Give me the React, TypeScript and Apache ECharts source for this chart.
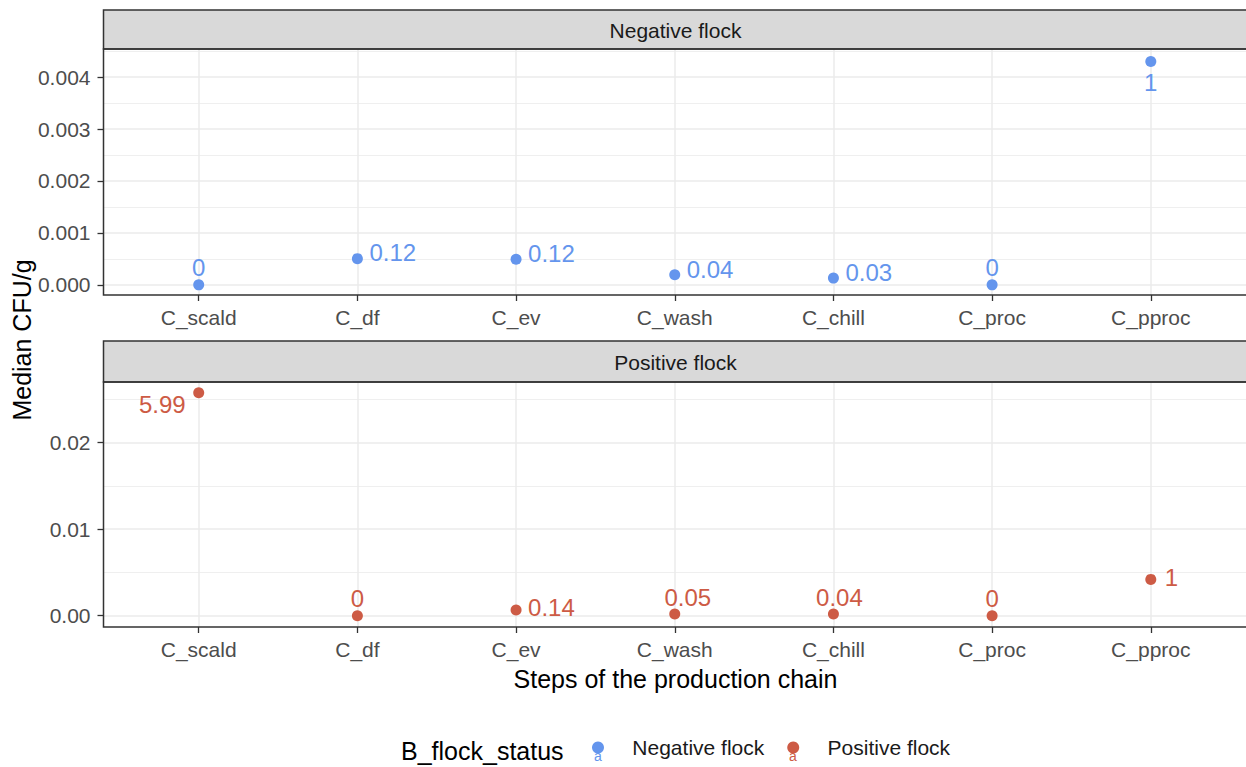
import React, { useEffect, useRef } from 'react';
import * as echarts from 'echarts';

// ---------------- data ----------------
const steps = ['C_scald', 'C_df', 'C_ev', 'C_wash', 'C_chill', 'C_proc', 'C_pproc'];
const negativeValues = [0, 0.000505, 0.000495, 0.000195, 0.00013, 0, 0.0043];
const positiveValues = [0.02577, 0, 0.00066, 0.0002, 0.0002, 0, 0.0042];
const negativeLabels = ['0', '0.12', '0.12', '0.04', '0.03', '0', '1'];
const positiveLabels = ['5.99', '0', '0.14', '0.05', '0.04', '0', '1'];
const negativeTicks = [0, 0.001, 0.002, 0.003, 0.004];
const negativeMinorTicks = [0.0005, 0.0015, 0.0025, 0.0035, 0.0045];
const positiveTicks = [0, 0.01, 0.02];
const positiveMinorTicks = [0.005, 0.015, 0.025];
const stepIndex = [0, 1, 2, 3, 4, 5, 6];
const panelNames = ['Negative flock', 'Positive flock'];
const legendTitle = 'B_flock_status';
const xTitle = 'Steps of the production chain';
const yTitle = 'Median CFU/g';

// ---------------- style / layout ----------------
const BLUE = '#6495ED';
const RED = '#CD5B45';
const FONT = '"Liberation Sans", Arial, sans-serif';
// label placement: [align, dx, dy]
const negPlace: [string, number, number][] = [
  ['center', 0, -17], ['left', 12, -6], ['left', 12, -6], ['left', 12, -5],
  ['left', 12, -6], ['center', 0, -17], ['center', 0, 21],
];
const posPlace: [string, number, number][] = [
  ['right', -13, 12], ['center', 0, -17], ['left', 12, -3], ['center', 13, -17],
  ['center', 6, -17], ['center', 0, -17], ['left', 14, -2],
];

const PANEL_LEFT = 103.5;
const PANEL_W = 1144;
const P1 = { stripTop: 10, top: 49, bottom: 295 };
const P2 = { stripTop: 341, top: 382, bottom: 627 };

function buildData(values: number[], labels: string[], place: [string, number, number][], color: string) {
  return values.map((v, i) => ({
    value: [stepIndex[i], v],
    label: {
      show: true,
      formatter: labels[i],
      position: 'inside',
      align: place[i][0],
      verticalAlign: 'middle',
      offset: [place[i][1], place[i][2]],
      color,
      fontSize: 24,
      fontFamily: FONT,
    },
  }));
}

function xAxisFor(gridIndex: number) {
  return {
    type: 'value',
    gridIndex,
    min: -0.6,
    max: 6.6,
    axisLine: { show: false, onZero: false },
    axisTick: { show: true, customValues: stepIndex, length: 6, lineStyle: { color: '#333333', width: 1.3 } },
    axisLabel: {
      show: true,
      customValues: stepIndex,
      formatter: (v: number) => steps[Math.round(v)] ?? '',
      color: '#4D4D4D',
      fontSize: 21,
      fontFamily: FONT,
      margin: 11.5,
    },
    splitLine: { show: true, lineStyle: { color: '#EBEBEB', width: 1.5 } },
  };
}

function yAxisMajor(gridIndex: number, min: number, max: number, ticks: number[], digits: number) {
  return {
    type: 'value',
    gridIndex,
    min,
    max,
    axisLine: { show: false, onZero: false },
    axisTick: { show: true, customValues: ticks, length: 6, lineStyle: { color: '#333333', width: 1.3 } },
    axisLabel: {
      show: true,
      customValues: ticks,
      formatter: (v: number) => v.toFixed(digits),
      color: '#4D4D4D',
      fontSize: 21,
      fontFamily: FONT,
      margin: 13,
    },
    splitLine: { show: true, lineStyle: { color: '#EBEBEB', width: 1.5 } },
  };
}

function yAxisMinor(gridIndex: number, min: number, max: number, ticks: number[]) {
  return {
    type: 'value',
    gridIndex,
    min,
    max,
    axisLine: { show: false, onZero: false },
    axisTick: { show: false, customValues: ticks },
    axisLabel: { show: false, customValues: ticks },
    splitLine: { show: true, lineStyle: { color: '#EBEBEB', width: 0.8 } },
  };
}

export default function App() {
  const ref = useRef<HTMLDivElement>(null);

  useEffect(() => {
    if (!ref.current) return;
    const chart = echarts.init(ref.current, undefined, { renderer: 'svg' });

    const strip = (p: { stripTop: number; top: number; bottom: number }, name: string) => [
      {
        type: 'rect',
        shape: { x: PANEL_LEFT, y: p.stripTop, width: PANEL_W, height: p.top - p.stripTop },
        style: { fill: '#D9D9D9', stroke: '#333333', lineWidth: 1.5 },
        z: 5,
      },
      {
        type: 'text',
        x: PANEL_LEFT + PANEL_W / 2,
        y: (p.stripTop + p.top) / 2 + 1,
        style: { text: name, fill: '#1A1A1A', fontSize: 21, fontFamily: FONT, align: 'center', verticalAlign: 'middle' },
        z: 6,
      },
      {
        type: 'rect',
        shape: { x: PANEL_LEFT, y: p.top, width: PANEL_W, height: p.bottom - p.top },
        style: { fill: 'none', stroke: '#333333', lineWidth: 1.5 },
        z: 5,
        silent: true,
      },
    ];

    const option: any = {
      animation: false,
      backgroundColor: '#FFFFFF',
      grid: [
        { left: PANEL_LEFT, top: P1.top, width: PANEL_W, height: P1.bottom - P1.top, containLabel: false },
        { left: PANEL_LEFT, top: P2.top, width: PANEL_W, height: P2.bottom - P2.top, containLabel: false },
      ],
      xAxis: [xAxisFor(0), xAxisFor(1)],
      yAxis: [
        yAxisMajor(0, -0.000195, 0.00454, negativeTicks, 3),
        yAxisMinor(0, -0.000195, 0.00454, negativeMinorTicks),
        yAxisMajor(1, -0.0013, 0.027, positiveTicks, 2),
        yAxisMinor(1, -0.0013, 0.027, positiveMinorTicks),
      ],
      legend: {
        show: true,
        left: 592,
        top: 737,
        padding: 0,
        orient: 'horizontal',
        itemWidth: 12,
        itemHeight: 12,
        itemGap: 23,
        icon: 'circle',
        formatter: (name: string) => '    ' + name,
        textStyle: { color: '#1A1A1A', fontSize: 21, fontFamily: FONT },
        data: [
          { name: panelNames[0], itemStyle: { color: BLUE } },
          { name: panelNames[1], itemStyle: { color: RED } },
        ],
      },
      series: [
        {
          name: panelNames[0],
          type: 'scatter',
          xAxisIndex: 0,
          yAxisIndex: 0,
          symbol: 'circle',
          symbolSize: 11,
          itemStyle: { color: BLUE, opacity: 1 },
          data: buildData(negativeValues, negativeLabels, negPlace, BLUE),
          z: 8,
        },
        {
          name: panelNames[1],
          type: 'scatter',
          xAxisIndex: 1,
          yAxisIndex: 2,
          symbol: 'circle',
          symbolSize: 11,
          itemStyle: { color: RED, opacity: 1 },
          data: buildData(positiveValues, positiveLabels, posPlace, RED),
          z: 8,
        },
      ],
      graphic: [
        ...strip(P1, panelNames[0]),
        ...strip(P2, panelNames[1]),
        {
          type: 'text',
          x: 22,
          y: 340,
          rotation: Math.PI / 2,
          style: { text: yTitle, fill: '#000000', fontSize: 25, fontFamily: FONT, align: 'center', verticalAlign: 'middle' },
        },
        {
          type: 'text',
          x: PANEL_LEFT + PANEL_W / 2,
          y: 679,
          style: { text: xTitle, fill: '#000000', fontSize: 25, fontFamily: FONT, align: 'center', verticalAlign: 'middle' },
        },
        {
          type: 'text',
          x: 401,
          y: 751,
          style: { text: legendTitle, fill: '#000000', fontSize: 25, fontFamily: FONT, align: 'left', verticalAlign: 'middle' },
        },
        {
          type: 'text',
          x: 598,
          y: 756,
          style: { text: 'a', fill: BLUE, fontSize: 14, fontFamily: FONT, align: 'center', verticalAlign: 'middle' },
          z: 1,
        },
        {
          type: 'text',
          x: 793,
          y: 756,
          style: { text: 'a', fill: RED, fontSize: 14, fontFamily: FONT, align: 'center', verticalAlign: 'middle' },
          z: 1,
        },
      ],
    };

    chart.setOption(option);
    return () => chart.dispose();
  }, []);

  return (
    <div
      ref={ref}
      style={{ position: 'absolute', left: 0, top: 0, width: 1246, height: 767, background: '#FFFFFF' }}
    />
  );
}
